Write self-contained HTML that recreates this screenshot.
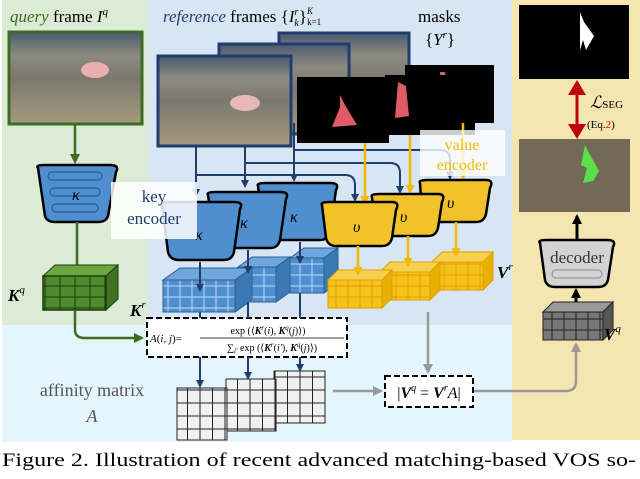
<!DOCTYPE html>
<html><head><meta charset="utf-8"><style>
body{margin:0;width:640px;height:474px;overflow:hidden;background:#fff}
svg text{font-family:"Liberation Serif",serif}
</style></head><body>
<svg width="640" height="474" viewBox="0 0 640 474" xmlns="http://www.w3.org/2000/svg">
<defs>
<linearGradient id="photo" x1="0" y1="0" x2="0" y2="1">
<stop offset="0" stop-color="#4a5a70"/><stop offset="0.25" stop-color="#8d8a80"/><stop offset="0.5" stop-color="#7b7870"/><stop offset="1" stop-color="#a49a7c"/></linearGradient>
<marker id="ab" markerWidth="8" markerHeight="8" refX="6" refY="4" orient="auto" markerUnits="userSpaceOnUse"><path d="M0,0 L8,4 L0,8z" fill="#1f3d6e"/></marker>
<marker id="ag" markerWidth="10" markerHeight="10" refX="8" refY="5" orient="auto" markerUnits="userSpaceOnUse"><path d="M0,0 L10,5 L0,10z" fill="#3d6b22"/></marker>
<marker id="ay" markerWidth="9" markerHeight="9" refX="7" refY="4.5" orient="auto" markerUnits="userSpaceOnUse"><path d="M0,0 L9,4.5 L0,9z" fill="#f5b800"/></marker>
<marker id="agr" markerWidth="10" markerHeight="10" refX="8" refY="5" orient="auto" markerUnits="userSpaceOnUse"><path d="M0,0 L10,5 L0,10z" fill="#999"/></marker>
<marker id="ak" markerWidth="10" markerHeight="10" refX="8" refY="5" orient="auto" markerUnits="userSpaceOnUse"><path d="M0,0 L10,5 L0,10z" fill="#000"/></marker>
<pattern id="gridw" width="12.5" height="13" patternUnits="userSpaceOnUse"><rect width="12.5" height="13" fill="#f0f0f0" stroke="#222" stroke-width="1"/></pattern>
<pattern id="gridg" width="15" height="11" patternUnits="userSpaceOnUse"><rect width="15" height="11" fill="#4f8a2c" stroke="#1d3a10" stroke-width="1"/></pattern>
<pattern id="gridb" width="12" height="11" patternUnits="userSpaceOnUse"><rect width="12" height="11" fill="#4f8fd0" stroke="#bcd8f0" stroke-width="1"/></pattern>
<pattern id="gridy" width="12" height="11" patternUnits="userSpaceOnUse"><rect width="12" height="11" fill="#f6c21c" stroke="#e0a000" stroke-width="1"/></pattern>
<pattern id="gridk" width="12" height="11" patternUnits="userSpaceOnUse"><rect width="12" height="11" fill="#777" stroke="#222" stroke-width="1"/></pattern>
</defs>
<rect x="2" y="0" width="146" height="325" fill="#dcebd6"/>
<rect x="148" y="0" width="364" height="325" fill="#d8e5f2"/>
<rect x="2" y="325" width="510" height="117" fill="#e4f5fb"/>
<rect x="512" y="0" width="128" height="440" fill="#f5e5b0"/>

<text x="10" y="22" font-size="17"><tspan font-style="italic" fill="#3d6b22">query</tspan> frame <tspan font-style="italic">I</tspan><tspan font-size="11" dy="-7" font-style="italic">q</tspan></text>
<text x="163" y="22" font-size="17"><tspan font-style="italic" fill="#1f3d6e">reference</tspan> frames {<tspan font-style="italic">I</tspan><tspan font-size="10" dy="-7" font-style="italic">r</tspan><tspan font-size="10" dy="11" dx="-4" font-style="italic">k</tspan><tspan dy="-4">}</tspan><tspan font-size="9" dy="-8" font-style="italic">K</tspan><tspan font-size="9" dy="11" dx="-6">k=1</tspan></text>
<text x="418" y="22" font-size="17">masks</text>
<text x="425" y="45" font-size="17">{<tspan font-style="italic">Y</tspan><tspan font-size="11" dy="-7" font-style="italic">r</tspan><tspan dy="7">}</tspan></text>

<rect x="9" y="32" width="133" height="92" fill="url(#photo)" stroke="#3d6b22" stroke-width="3"/>
<ellipse cx="95" cy="70" rx="14" ry="8" fill="#e8b0b0"/>
<line x1="75" y1="125" x2="75" y2="162" stroke="#3d6b22" stroke-width="2.5" marker-end="url(#ag)"/>

<rect x="279" y="33" width="130" height="90" fill="url(#photo)" stroke="#1f3d6e" stroke-width="3"/>
<rect x="219" y="44" width="130" height="90" fill="url(#photo)" stroke="#1f3d6e" stroke-width="3"/>
<rect x="158" y="56" width="133" height="90" fill="url(#photo)" stroke="#1f3d6e" stroke-width="3"/>
<ellipse cx="245" cy="103" rx="15" ry="8" fill="#e8b8b8"/>
<rect x="405" y="65" width="89" height="58" fill="#000"/>
<path d="M440 72 l5 0 l6 30 l-10 8z" fill="#e05a68"/>
<rect x="385" y="75" width="90" height="60" fill="#000"/>
<path d="M398 82 l8 4 l3 30 l-14 2z" fill="#e05a68"/>
<rect x="297" y="77" width="92" height="66" fill="#000"/>
<path d="M340 95 l5 10 l12 20 l-25 2 l8 -20z" fill="#e05a68"/>

<g stroke="#1f3d6e" stroke-width="2" fill="none">
<line x1="196" y1="146" x2="196" y2="195" marker-end="url(#ab)"/>
<line x1="245" y1="146" x2="245" y2="186" marker-end="url(#ab)"/>
<line x1="294" y1="123" x2="294" y2="180" marker-end="url(#ab)"/>
<path d="M196 175 H345 Q355 175 355 185 V200" marker-end="url(#ab)"/>
<path d="M245 163 H390 Q400 163 400 173 V192" marker-end="url(#ab)"/>
<path d="M294 150 H440 Q450 150 450 160 V178" marker-end="url(#ab)"/>
</g>
<g stroke="#f5b800" stroke-width="2.5">
<line x1="365" y1="143" x2="365" y2="203" marker-end="url(#ay)"/>
<line x1="410" y1="135" x2="410" y2="192" marker-end="url(#ay)"/>
<line x1="463" y1="123" x2="463" y2="178" marker-end="url(#ay)"/>
</g>

<rect x="420" y="130" width="85" height="46" fill="#fff" opacity="0.8"/>
<text x="462" y="150" font-size="16" fill="#f5b800" text-anchor="middle">value</text>
<text x="462" y="170" font-size="16" fill="#f5b800" text-anchor="middle">encoder</text>

<path d="M38 168 Q35 165 45 165 H110 Q120 165 116 172 L108 216 Q106 222 98 222 H55 Q47 222 45 216 Z" fill="#4f8fd0" stroke="#000" stroke-width="2.5"/>
<g fill="none" stroke="#2c5f94" stroke-width="1.2"><rect x="48" y="172" width="54" height="8" rx="4"/><rect x="50" y="188" width="50" height="8" rx="4"/><rect x="52" y="204" width="46" height="8" rx="4"/></g>
<text x="72" y="200" font-size="16" font-style="italic">κ</text>
<line x1="77" y1="222" x2="77" y2="265" stroke="#3d6b22" stroke-width="2.5"/>

<g stroke="#000" stroke-width="2.5" fill="#4f8fd0">
<path d="M258 186 Q256 183 266 183 H330 Q340 183 336 190 L330 232 Q328 240 320 240 H275 Q266 240 264 232 Z"/>
<path d="M208 195 Q206 192 216 192 H280 Q290 192 286 199 L280 240 Q278 248 270 248 H225 Q216 248 214 240 Z"/>
<path d="M162 205 Q160 202 170 202 H234 Q244 202 240 209 L234 252 Q232 260 224 260 H179 Q170 260 168 252 Z"/>
</g>
<text x="290" y="222" font-size="16" font-style="italic">κ</text>
<text x="240" y="228" font-size="16" font-style="italic">κ</text>
<text x="195" y="240" font-size="16" font-style="italic">κ</text>
<g stroke="#000" stroke-width="2.5" fill="#f2c22a">
<path d="M420 183 Q418 180 428 180 H486 Q494 180 490 188 L486 214 Q484 222 476 222 H432 Q424 222 422 214 Z"/>
<path d="M372 197 Q370 194 380 194 H438 Q446 194 442 202 L438 228 Q436 236 428 236 H384 Q376 236 374 228 Z"/>
<path d="M322 205 Q320 202 330 202 H392 Q400 202 396 210 L392 238 Q390 246 382 246 H336 Q328 246 326 238 Z"/>
</g>
<text x="447" y="208" font-size="16" font-style="italic">υ</text>
<text x="400" y="222" font-size="16" font-style="italic">υ</text>
<text x="353" y="232" font-size="16" font-style="italic">υ</text>

<rect x="111" y="182" width="86" height="57" fill="#fff" opacity="0.85"/>
<text x="154" y="202" font-size="17" fill="#1f3d6e" text-anchor="middle">key</text>
<text x="154" y="224" font-size="17" fill="#1f3d6e" text-anchor="middle">encoder</text>

<!-- Kq cube -->
<polygon points="43,276 55,265 118,265 106,276" fill="#6aa83e" stroke="#1d3a10"/>
<polygon points="106,276 118,265 118,299 106,310" fill="#3f7322" stroke="#1d3a10"/>
<rect x="43" y="276" width="63" height="34" fill="url(#gridg)" stroke="#1d3a10" stroke-width="1.5"/>
<text x="8" y="301" font-size="17" font-weight="bold" font-style="italic">K<tspan font-size="11" dy="-8" font-weight="normal">q</tspan></text>

<!-- blue cubes -->
<g stroke="#2c5f94">
<polygon points="290,258 304,248 338,248 324,258" fill="#6fa6dc"/>
<polygon points="324,258 338,248 338,283 324,293" fill="#3a78b6"/>
<rect x="290" y="258" width="34" height="35" fill="url(#gridb)"/>
<polygon points="238,267 252,257 290,257 276,267" fill="#6fa6dc"/>
<polygon points="276,267 290,257 290,292 276,302" fill="#3a78b6"/>
<rect x="238" y="267" width="38" height="35" fill="url(#gridb)"/>
<polygon points="163,280 180,268 252,268 235,280" fill="#6fa6dc"/>
<polygon points="235,280 252,268 252,300 235,312" fill="#3a78b6"/>
<rect x="163" y="280" width="72" height="32" fill="url(#gridb)"/>
</g>
<g stroke="#1f3d6e" stroke-width="2">
<line x1="200" y1="262" x2="200" y2="290" marker-end="url(#ab)"/>
<line x1="248" y1="250" x2="248" y2="272" marker-end="url(#ab)"/>
<line x1="300" y1="242" x2="300" y2="262" marker-end="url(#ab)"/>
</g>
<text x="130" y="316" font-size="17" font-weight="bold" font-style="italic">K<tspan font-size="11" dy="-8" font-weight="normal">r</tspan></text>

<!-- yellow cubes -->
<g stroke="#e0a000">
<polygon points="432,262 442,252 493,252 483,262" fill="#f8d050"/>
<polygon points="483,262 493,252 493,280 483,290" fill="#e8b000"/>
<rect x="432" y="262" width="51" height="28" fill="url(#gridy)"/>
<polygon points="380,272 390,262 440,262 430,272" fill="#f8d050"/>
<polygon points="430,272 440,262 440,290 430,300" fill="#e8b000"/>
<rect x="380" y="272" width="50" height="28" fill="url(#gridy)"/>
<polygon points="328,280 338,270 392,270 382,280" fill="#f8d050"/>
<polygon points="382,280 392,270 392,298 382,308" fill="#e8b000"/>
<rect x="328" y="280" width="54" height="28" fill="url(#gridy)"/>
</g>
<g stroke="#f5b800" stroke-width="2.5">
<line x1="358" y1="246" x2="358" y2="274" marker-end="url(#ay)"/>
<line x1="408" y1="236" x2="408" y2="265" marker-end="url(#ay)"/>
<line x1="456" y1="222" x2="456" y2="255" marker-end="url(#ay)"/>
</g>
<text x="497" y="278" font-size="17" font-weight="bold" font-style="italic">V<tspan font-size="11" dy="-8" font-weight="normal">r</tspan></text>

<path d="M75 310 V330 Q75 338 85 338 H142" stroke="#3d6b22" stroke-width="2.5" fill="none" marker-end="url(#ag)"/>
<rect x="147" y="318" width="200" height="39" fill="#fff" stroke="#000" stroke-width="2" stroke-dasharray="6,3"/>
<text x="150" y="342" font-size="11"><tspan font-style="italic">A</tspan>(<tspan font-style="italic">i, j</tspan>)=</text>
<text x="268" y="334" font-size="10" text-anchor="middle">exp (⟨<tspan font-weight="bold" font-style="italic">K</tspan><tspan font-size="7" dy="-4" font-style="italic">r</tspan><tspan dy="4">(</tspan><tspan font-style="italic">i</tspan>), <tspan font-weight="bold" font-style="italic">K</tspan><tspan font-size="7" dy="-4" font-style="italic">q</tspan><tspan dy="4">(</tspan><tspan font-style="italic">j</tspan>)⟩)</text>
<line x1="200" y1="338" x2="344" y2="338" stroke="#000" stroke-width="0.8"/>
<text x="272" y="351" font-size="10" text-anchor="middle">∑<tspan font-size="7" dy="2" font-style="italic">i′</tspan><tspan dy="-2"> exp (⟨</tspan><tspan font-weight="bold" font-style="italic">K</tspan><tspan font-size="7" dy="-4" font-style="italic">r</tspan><tspan dy="4">(</tspan><tspan font-style="italic">i′</tspan>), <tspan font-weight="bold" font-style="italic">K</tspan><tspan font-size="7" dy="-4" font-style="italic">q</tspan><tspan dy="4">(</tspan><tspan font-style="italic">j</tspan>)⟩)</text>

<g stroke="#1f3d6e" stroke-width="2">
<line x1="200" y1="312" x2="200" y2="318"/>
<line x1="248" y1="302" x2="248" y2="318"/>
<line x1="300" y1="293" x2="300" y2="318"/>
<line x1="200" y1="357" x2="200" y2="386" marker-end="url(#ab)"/>
<line x1="248" y1="357" x2="248" y2="378" marker-end="url(#ab)"/>
<line x1="300" y1="357" x2="300" y2="370" marker-end="url(#ab)"/>
</g>
<rect x="274" y="371" width="51" height="52" fill="url(#gridw)" stroke="#222"/>
<rect x="226" y="379" width="50" height="52" fill="url(#gridw)" stroke="#222"/>
<rect x="177" y="388" width="50" height="52" fill="url(#gridw)" stroke="#222"/>
<text x="92" y="396" font-size="18" fill="#555" text-anchor="middle">affinity matrix</text>
<text x="92" y="422" font-size="18" fill="#555" font-style="italic" text-anchor="middle">A</text>

<line x1="428" y1="312" x2="428" y2="372" stroke="#999" stroke-width="2.5" marker-end="url(#agr)"/>
<line x1="333" y1="391" x2="381" y2="391" stroke="#999" stroke-width="2.5" marker-end="url(#agr)"/>
<path d="M473 391 H566 Q576 391 576 381 V344" stroke="#999" stroke-width="2.5" fill="none" marker-end="url(#agr)"/>
<rect x="385" y="376" width="88" height="31" fill="#fff" stroke="#000" stroke-width="2" stroke-dasharray="6,3"/>
<text x="429" y="398" font-size="16" text-anchor="middle">|<tspan font-weight="bold" font-style="italic">V</tspan><tspan font-size="10" dy="-7" font-style="italic">q</tspan><tspan dy="7"> = </tspan><tspan font-weight="bold" font-style="italic">V</tspan><tspan font-size="10" dy="-7" font-style="italic">r</tspan><tspan dy="7" font-style="italic">A</tspan>|</text>

<rect x="519" y="5" width="110" height="74" fill="#000"/>
<path d="M580 12 l4 10 l10 14 l-8 14 l-3 -10 l-3 10z" fill="#fff"/>
<line x1="577" y1="85" x2="577" y2="133" stroke="#c00010" stroke-width="3"/>
<path d="M568 95 L577 80 L586 95z M568 124 L577 139 L586 124z" fill="#c00010"/>
<text x="590" y="108" font-size="17" font-style="italic">ℒ<tspan font-size="11" font-style="normal">SEG</tspan></text>
<text x="587" y="128" font-size="11">(Eq.<tspan fill="#e00">2</tspan>)</text>
<rect x="519" y="139" width="111" height="73" fill="#736a55"/>
<path d="M585 145 l4 8 l10 18 l-6 10 l-10 2 l4 -15 l-6 -3z" fill="#5ce04a"/>
<line x1="577" y1="240" x2="577" y2="216" stroke="#000" stroke-width="3" marker-end="url(#ak)"/>
<path d="M540 243 Q537 240 547 240 H607 Q617 240 613 247 L608 280 Q606 287 598 287 H555 Q547 287 545 280 Z" fill="#d3d3d3" stroke="#000" stroke-width="2.5"/>
<rect x="552" y="270" width="50" height="8" rx="4" fill="none" stroke="#888"/>
<text x="577" y="263" font-size="17" text-anchor="middle" fill="#333">decoder</text>
<line x1="576" y1="302" x2="576" y2="290" stroke="#000" stroke-width="3" marker-end="url(#ak)"/>
<polygon points="543,312 553,302 613,302 603,312" fill="#999" stroke="#222"/>
<polygon points="603,312 613,302 613,330 603,340" fill="#555" stroke="#222"/>
<rect x="543" y="312" width="60" height="28" fill="url(#gridk)" stroke="#222"/>
<text x="604" y="340" font-size="17" font-weight="bold" font-style="italic">V<tspan font-size="11" dy="-8" font-weight="normal">q</tspan></text>

<text x="2" y="466" font-size="19" textLength="634" lengthAdjust="spacingAndGlyphs">Figure 2.  Illustration of recent advanced matching-based VOS so-</text>
</svg>
</body></html>
